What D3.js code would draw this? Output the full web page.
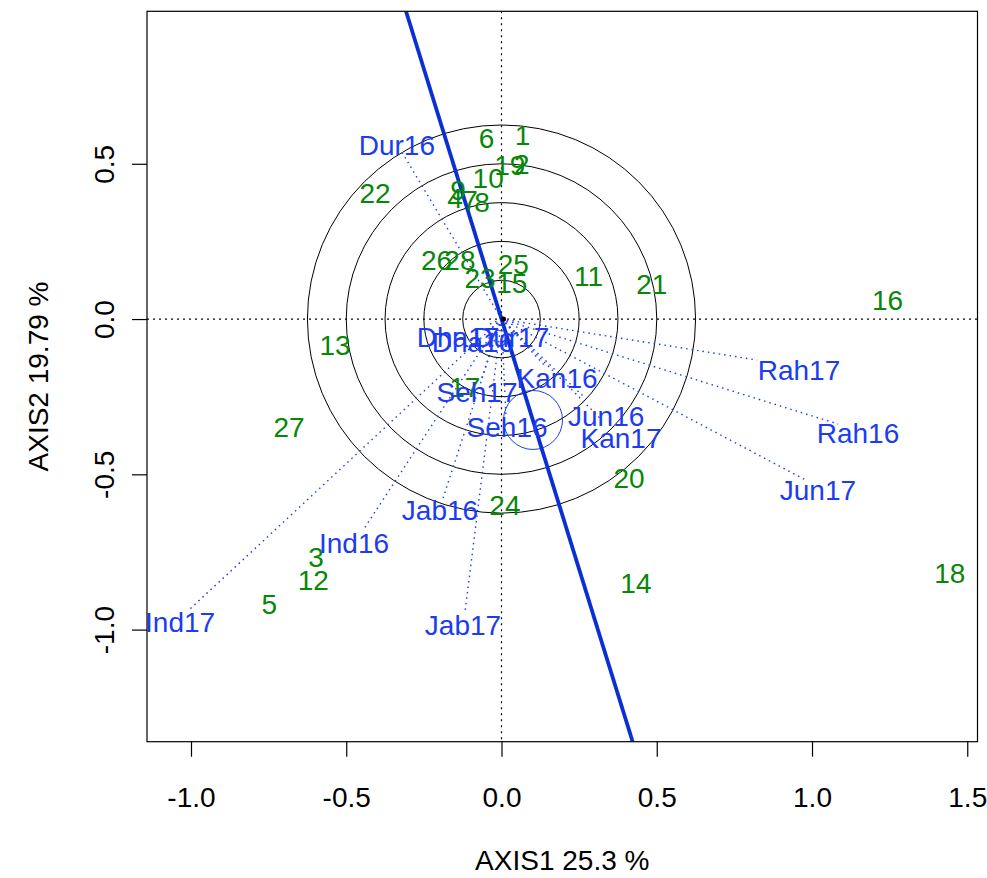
<!DOCTYPE html>
<html><head><meta charset="utf-8">
<script src="https://cdn.jsdelivr.net/npm/d3@7"></script>
<style>
body{margin:0;background:#fff}
text{font-family:"Liberation Sans",Arial,sans-serif}
</style>
</head><body>
<svg id="chart" width="987" height="878"></svg>
<script>
// ---------- data ----------
const siteLabels = ["1","2","3","4","5","6","7","8","9","10","11","12","13","14","15","16","17","18","19","20","21","22","23","24","25","26","27","28"];
const siteX = [0.068,0.065,-0.597,-0.150,-0.748,-0.048,-0.101,-0.063,-0.140,-0.043,0.280,-0.606,-0.536,0.433,0.033,1.243,-0.118,1.444,0.027,0.411,0.484,-0.407,-0.069,0.011,0.038,-0.209,-0.684,-0.134];
const siteY = [0.593,0.501,-0.766,0.390,-0.916,0.582,0.383,0.377,0.415,0.453,0.139,-0.841,-0.084,-0.850,0.115,0.061,-0.219,-0.818,0.496,-0.510,0.113,0.405,0.131,-0.599,0.179,0.190,-0.348,0.190];

const varLabels = ["Dur16","Rah17","Rah16","Jun17","Jun16","Kan17","Kan16","Seh17","Seh16","Jab16","Jab17","Ind16","Ind17","Dha17","Dha16","Dur17"];
const varTipX = [-0.327,0.823,1.084,0.981,0.269,0.317,0.140,-0.066,0.014,-0.188,-0.118,-0.446,-1.010,-0.037,-0.031,0.005];
const varTipY = [0.548,-0.132,-0.338,-0.519,-0.254,-0.319,-0.151,-0.196,-0.306,-0.576,-0.947,-0.680,-0.940,-0.016,-0.029,-0.016];
const varLabX = [-0.337,0.958,1.148,1.019,0.337,0.385,0.179,-0.079,0.018,-0.198,-0.124,-0.475,-1.035,-0.140,-0.092,0.031];
const varLabY = [0.560,-0.164,-0.367,-0.551,-0.312,-0.383,-0.190,-0.235,-0.348,-0.615,-0.986,-0.721,-0.976,-0.058,-0.074,-0.058];

const circleRadii = [0.125,0.25,0.375,0.5,0.625];
const groupCenterX = [0.1015];
const groupCenterY = [-0.325];
const groupRadius = [0.095];
const axisSlope = -3.222;   // thick blue line through origin: y = slope * x

const xTicks = [-1.0,-0.5,0.0,0.5,1.0,1.5];
const yTicks = [-1.0,-0.5,0.0,0.5];
const xTitle = "AXIS1 25.3 %";
const yTitle = "AXIS2 19.79 %";

// ---------- drawing ----------
const svg = d3.select("#chart");
const L = 147, R = 977.5, T = 11.3, B = 741.7;
const x = d3.scaleLinear().domain([-1.1417,1.533]).range([L,R]);
const y = d3.scaleLinear().domain([-1.361,0.991]).range([B,T]);
const green = "#078707", blue = "#1b3cf2", lineBlue = "#0a2fd4";
const fs = 28;

svg.append("clipPath").attr("id","clip").append("rect")
  .attr("x",L).attr("y",T).attr("width",R-L).attr("height",B-T);

const plot = svg.append("g").attr("clip-path","url(#clip)");

// dotted zero lines
plot.append("line").attr("x1",L).attr("x2",R).attr("y1",y(0)).attr("y2",y(0))
  .attr("stroke","#000").attr("stroke-width",1.2).attr("stroke-dasharray","2,4");
plot.append("line").attr("x1",x(0)).attr("x2",x(0)).attr("y1",T).attr("y2",B)
  .attr("stroke","#000").attr("stroke-width",1.2).attr("stroke-dasharray","2,4");

// concentric circles
plot.selectAll("circle.ring").data(circleRadii).enter().append("circle")
  .attr("class","ring").attr("cx",x(0)).attr("cy",y(0))
  .attr("r",d=>x(d)-x(0)).attr("fill","none").attr("stroke","#000").attr("stroke-width",1);

// dotted arrows
plot.selectAll("line.arrow").data(varLabels).enter().append("line")
  .attr("x1",x(0)).attr("y1",y(0))
  .attr("x2",(d,i)=>x(varTipX[i])).attr("y2",(d,i)=>y(varTipY[i]))
  .attr("stroke",blue).attr("stroke-width",1.4).attr("stroke-dasharray","1.5,4");

// group circle
plot.selectAll("circle.grp").data(groupRadius).enter().append("circle")
  .attr("cx",(d,i)=>x(groupCenterX[i])).attr("cy",(d,i)=>y(groupCenterY[i]))
  .attr("r",d=>x(d)-x(0)).attr("fill","none").attr("stroke",blue).attr("stroke-width",1);

// thick blue line
const y0 = y.domain()[0], y1 = y.domain()[1];
plot.append("line")
  .attr("x1",x(y1/axisSlope)).attr("y1",y(y1))
  .attr("x2",x(y0/axisSlope)).attr("y2",y(y0))
  .attr("stroke",lineBlue).attr("stroke-width",3.8);

// origin marker
plot.append("circle").attr("cx",x(0)+2).attr("cy",y(0)).attr("r",2.6).attr("fill","#000");

// site labels
svg.selectAll("text.site").data(siteLabels).enter().append("text")
  .attr("x",(d,i)=>x(siteX[i])).attr("y",(d,i)=>y(siteY[i]))
  .attr("dy","0.36em").attr("text-anchor","middle")
  .attr("font-size",fs).attr("fill",green).text(d=>d);

// variable labels
svg.selectAll("text.var").data(varLabels).enter().append("text")
  .attr("x",(d,i)=>x(varLabX[i])).attr("y",(d,i)=>y(varLabY[i]))
  .attr("dy","0.36em").attr("text-anchor","middle")
  .attr("font-size",fs).attr("fill",blue).text(d=>d);

// frame
svg.append("rect").attr("x",L).attr("y",T).attr("width",R-L).attr("height",B-T)
  .attr("fill","none").attr("stroke","#000").attr("stroke-width",1.2);

// x axis
const xa = svg.append("g").attr("transform",`translate(0,${B})`)
  .call(d3.axisBottom(x).tickValues(xTicks).tickSize(15).tickFormat(d=>d.toFixed(1)));
xa.select(".domain").remove();
xa.selectAll("line").attr("stroke","#000").attr("stroke-width",1.2);
xa.selectAll("text").attr("font-size",fs).attr("fill","#000")
  .attr("font-family","Liberation Sans, Arial, sans-serif").attr("y",55).attr("dy","0.36em");

// y axis
const ya = svg.append("g").attr("transform",`translate(${L},0)`)
  .call(d3.axisLeft(y).tickValues(yTicks).tickSize(15).tickFormat(d=>d.toFixed(1)));
ya.select(".domain").remove();
ya.selectAll("line").attr("stroke","#000").attr("stroke-width",1.2);
ya.selectAll("text").attr("font-size",fs).attr("fill","#000")
  .attr("font-family","Liberation Sans, Arial, sans-serif")
  .attr("x",0).attr("text-anchor","middle")
  .attr("transform","translate(-43,0) rotate(-90)").attr("dy","0.36em");

// titles
svg.append("text").attr("x",(L+R)/2).attr("y",860).attr("dy","0.36em")
  .attr("text-anchor","middle").attr("font-size",fs).text(xTitle);
svg.append("text").attr("transform",`translate(38,${(T+B)/2}) rotate(-90)`)
  .attr("dy","0.36em").attr("text-anchor","middle").attr("font-size",fs).text(yTitle);
</script>
</body></html>
